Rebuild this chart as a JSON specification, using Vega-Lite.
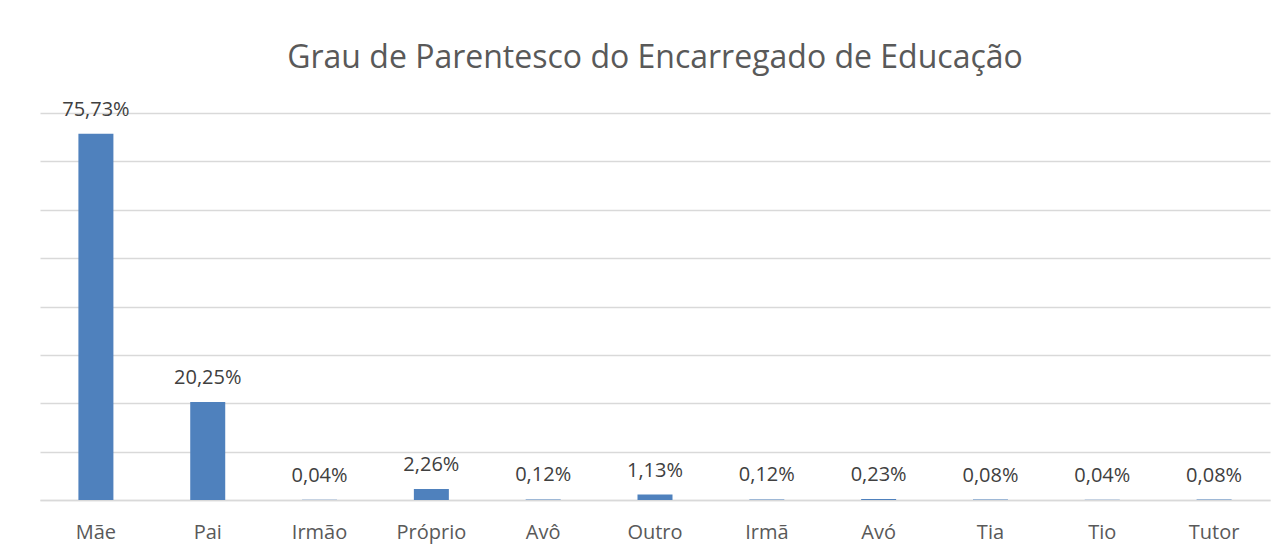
{
  "$schema": "https://vega.github.io/schema/vega-lite/v6.json",
  "autosize": {"type": "none"},
  "width": 1230,
  "height": 387,
  "padding": {"left": 40, "top": 113, "right": 16, "bottom": 53},
  "background": "white",
  "config": {
    "locale": {"number": {"decimal": ",", "thousands": ".", "grouping": [3], "currency": ["", " €"]}},
    "view": {"stroke": null},
    "font": "Open Sans"
  },
  "title": {
    "text": "Grau de Parentesco do Encarregado de Educação",
    "font": "Open Sans",
    "fontSize": 32,
    "fontWeight": "normal",
    "color": "#595959",
    "anchor": "middle",
    "baseline": "alphabetic",
    "offset": 43,
    "dy": 43
  },
  "data": {
    "values": [
      {"grau": "Mãe", "pct": 0.7573},
      {"grau": "Pai", "pct": 0.2025},
      {"grau": "Irmão", "pct": 0.0004},
      {"grau": "Próprio", "pct": 0.0226},
      {"grau": "Avô", "pct": 0.0012},
      {"grau": "Outro", "pct": 0.0113},
      {"grau": "Irmã", "pct": 0.0012},
      {"grau": "Avó", "pct": 0.0023},
      {"grau": "Tia", "pct": 0.0008},
      {"grau": "Tio", "pct": 0.0004},
      {"grau": "Tutor", "pct": 0.0008}
    ]
  },
  "encoding": {
    "x": {
      "field": "grau",
      "type": "nominal",
      "sort": null,
      "scale": {"paddingInner": 0.687, "paddingOuter": 0.3435},
      "axis": {
        "title": null,
        "labelAngle": 0,
        "labelFont": "Open Sans",
        "labelFontSize": 20,
        "labelColor": "#595959",
        "labelBaseline": "alphabetic",
        "labelPadding": 38,
        "ticks": false,
        "domainColor": "#d9d9d9",
        "domainWidth": 1.5,
        "grid": false
      }
    },
    "y": {
      "field": "pct",
      "type": "quantitative",
      "scale": {"domain": [0, 0.8], "nice": false},
      "axis": {
        "title": null,
        "labels": false,
        "ticks": false,
        "domain": false,
        "values": [0, 0.1, 0.2, 0.3, 0.4, 0.5, 0.6, 0.7, 0.8],
        "gridColor": "#d9d9d9",
        "gridWidth": 1.5
      }
    }
  },
  "layer": [
    {"mark": {"type": "bar", "color": "#4F81BD"}},
    {
      "mark": {"type": "text", "baseline": "alphabetic", "dy": -18, "font": "Open Sans", "fontSize": 20, "color": "#404040"},
      "encoding": {"text": {"field": "pct", "type": "quantitative", "format": ".2%"}}
    }
  ]
}
